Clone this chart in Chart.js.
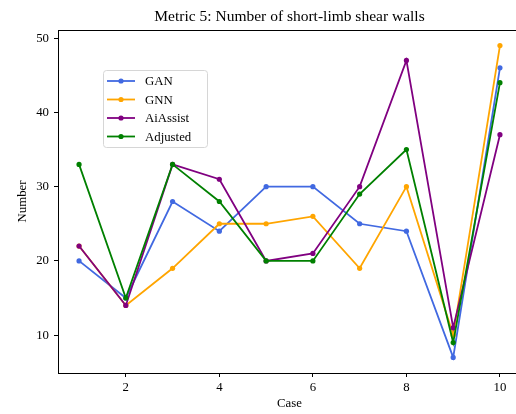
<!DOCTYPE html>
<html>
<head>
<meta charset="utf-8">
<script src="https://cdn.jsdelivr.net/npm/chart.js@4/dist/chart.umd.min.js"></script>
<style>
  html, body { margin: 0; padding: 0; background: #fff; overflow: hidden; }
  #wrap { width: 524px; height: 414px; }
</style>
</head>
<body>
<div id="wrap"><canvas id="myChart" width="524" height="414"></canvas></div>
<script>
const cases = [1, 2, 3, 4, 5, 6, 7, 8, 9, 10];
const gan = [20, 15, 28, 24, 30, 30, 25, 24, 7, 46];
const gnn = [22, 14, 19, 25, 25, 26, 19, 30, 10, 49];
const aiAssist = [22, 14, 33, 31, 20, 21, 30, 47, 11, 37];
const adjusted = [33, 15, 33, 28, 20, 20, 29, 35, 9, 44];
const xTicks = [2, 4, 6, 8, 10];
const yTicks = [10, 20, 30, 40, 50];
const chartTitle = 'Metric 5: Number of short-limb shear walls';

const series = [
  { label: 'GAN', color: '#4169E1', values: gan },
  { label: 'GNN', color: '#FFA500', values: gnn },
  { label: 'AiAssist', color: '#800080', values: aiAssist },
  { label: 'Adjusted', color: '#008000', values: adjusted }
];

const serif = "'Liberation Serif', 'DejaVu Serif', serif";

// spines on all four sides, title centred over the axes, legend box inside the axes
const frame = {
  id: 'frame',
  afterDatasetsDraw(chart) {
    const { ctx, chartArea: a } = chart;
    ctx.save();
    ctx.strokeStyle = '#000';
    ctx.lineWidth = 1;
    ctx.strokeRect(Math.round(a.left) + 0.5, Math.round(a.top) + 0.5,
      Math.round(a.right - a.left), Math.round(a.bottom - a.top));

    ctx.fillStyle = '#000';
    ctx.font = '15.5px ' + serif;
    ctx.textAlign = 'center';
    ctx.textBaseline = 'middle';
    ctx.fillText(chartTitle, (a.left + a.right) / 2, 17);

    // legend
    const bx = 103, by = 70, bw = 104, bh = 77;
    ctx.beginPath();
    ctx.roundRect(bx + 0.5, by + 0.5, bw, bh, 3);
    ctx.fillStyle = 'rgba(255,255,255,0.8)';
    ctx.fill();
    ctx.strokeStyle = '#d6d6d6';
    ctx.stroke();
    ctx.font = '12.8px ' + serif;
    ctx.textAlign = 'left';
    series.forEach((s, i) => {
      const y = by + 11 + i * 18.5;
      ctx.strokeStyle = s.color;
      ctx.lineWidth = 1.8;
      ctx.beginPath();
      ctx.moveTo(bx + 4, y);
      ctx.lineTo(bx + 32, y);
      ctx.stroke();
      ctx.fillStyle = s.color;
      ctx.beginPath();
      ctx.arc(bx + 18, y, 2.6, 0, Math.PI * 2);
      ctx.fill();
      ctx.fillStyle = '#000';
      ctx.fillText(s.label, bx + 42, y + 1);
    });
    ctx.restore();
  }
};

const tickFont = { family: serif, size: 12.8 };

new Chart('myChart', {
  type: 'line',
  data: {
    datasets: series.map((s, i) => ({
      label: s.label,
      data: cases.map((c, j) => ({ x: c, y: s.values[j] })),
      borderColor: s.color,
      backgroundColor: s.color,
      borderWidth: 1.8,
      pointRadius: 2.6,
      pointBorderWidth: 0,
      pointHoverRadius: 2.6,
      tension: 0,
      order: series.length - i
    }))
  },
  options: {
    responsive: false,
    animation: false,
    layout: { padding: { left: 0, right: 3, top: 30, bottom: 0 } },
    plugins: {
      legend: { display: false },
      tooltip: { enabled: false },
      title: { display: false }
    },
    scales: {
      x: {
        type: 'linear',
        min: 0.55,
        max: 10.45,
        afterBuildTicks: scale => { scale.ticks = xTicks.map(v => ({ value: v })); },
        afterFit: scale => { scale.height = 41; },
        border: { display: false },
        grid: { drawOnChartArea: false, drawTicks: true, tickLength: 4, color: '#000' },
        ticks: { color: '#000', font: tickFont, padding: 3, maxRotation: 0 },
        title: {
          display: true, text: 'Case', color: '#000', font: tickFont,
          padding: { top: 0, bottom: 2.3 }
        }
      },
      y: {
        type: 'linear',
        min: 4.9,
        max: 51.1,
        afterBuildTicks: scale => { scale.ticks = yTicks.map(v => ({ value: v })); },
        afterFit: scale => { scale.width = 58; },
        border: { display: false },
        grid: { drawOnChartArea: false, drawTicks: true, tickLength: 4, color: '#000' },
        ticks: { color: '#000', font: tickFont, padding: 5 },
        title: {
          display: true, text: 'Number', color: '#000', font: tickFont,
          padding: { top: 15, bottom: 0 }
        }
      }
    }
  },
  plugins: [frame]
});
</script>
</body>
</html>
